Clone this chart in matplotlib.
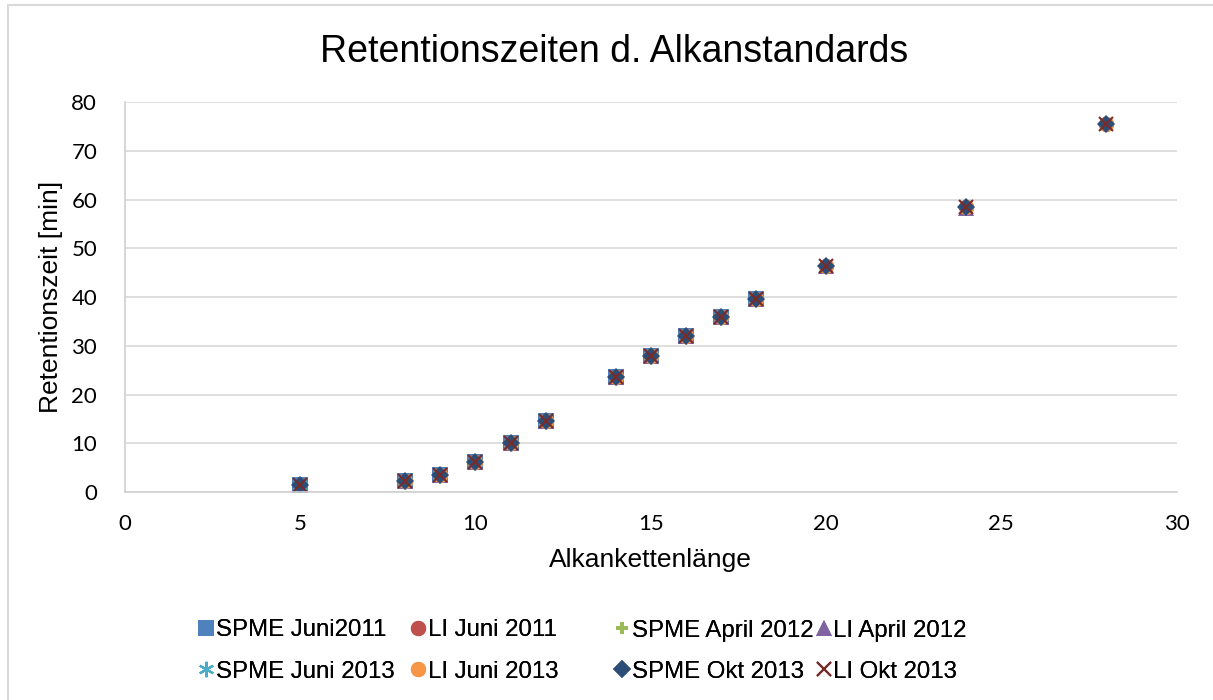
import matplotlib
matplotlib.use('Agg')
import matplotlib.pyplot as plt
from matplotlib.patches import Rectangle

# chain length (x) and retention time in minutes (y) per series
x_spme_2011 = [5, 8, 9, 10, 11, 12, 14, 15, 16, 17, 18]
y_spme_2011 = [1.4, 2.3, 3.5, 6.1, 10.1, 14.6, 23.7, 28.0, 32.0, 36.0, 39.6]
x_li = [8, 9, 10, 11, 12, 14, 15, 16, 17, 18, 20, 24, 28]
y_li = [2.3, 3.5, 6.1, 10.1, 14.6, 23.7, 28.0, 32.0, 36.0, 39.6, 46.4, 58.5, 75.5]
x_li_apr = [8, 9, 10, 11, 12, 14, 15, 16, 17, 18, 20, 24]
y_li_apr = [2.3, 3.5, 6.1, 10.1, 14.6, 23.7, 28.0, 32.0, 36.0, 39.6, 46.3, 58.3]
x_spme_2013 = [5, 8, 9, 10, 11, 12, 14, 15, 16, 17, 18]
y_spme_2013 = [1.4, 2.3, 3.5, 6.1, 10.1, 14.6, 23.7, 28.0, 32.0, 36.0, 39.6]

series = [
    ('SPME Juni2011', x_spme_2011, y_spme_2011, 's', '#4F81BD', 11),
    ('LI Juni 2011', x_li, y_li, 'o', '#C0504D', 11),
    ('SPME April 2012', x_spme_2011, y_spme_2011, 'P', '#9BBB59', 9),
    ('LI April 2012', x_li_apr, y_li_apr, '^', '#8064A2', 11),
    ('SPME Juni 2013', x_spme_2013, y_spme_2013, (6, 2, 0), '#4BACC6', 11),
    ('LI Juni 2013', x_li, y_li, 'o', '#F79646', 11),
    ('SPME Okt 2013', x_spme_2011 + x_li[-3:], y_spme_2011 + y_li[-3:], 'D', '#2C4D75', 9),
    ('LI Okt 2013', x_spme_2011 + x_li[-3:], y_spme_2011 + y_li[-3:], 'x', '#772C2A', 10),
]

plt.rcParams['font.family'] = ['Liberation Sans', 'DejaVu Sans']

fig = plt.figure(figsize=(12.13, 7.0), dpi=100)
ax = fig.add_axes([0.103, 0.297, 0.867, 0.557])

handles = []
for name, xs, ys, mk, col, ms in series:
    if mk in ('x', (6, 2, 0)):
        h, = ax.plot(xs, ys, linestyle='none', marker=mk, color=col, markersize=ms,
                     markeredgewidth=1.5, label=name)
    else:
        h, = ax.plot(xs, ys, linestyle='none', marker=mk, color=col, markersize=ms,
                     markeredgewidth=0, label=name)
    handles.append(h)

ax.set_xlim(0, 30)
ax.set_ylim(0, 80)
ax.set_xticks(range(0, 31, 5))
ax.set_yticks(range(0, 81, 10))
ax.grid(axis='y', color='#D9D9D9', linewidth=1.2)
ax.set_axisbelow(True)
for s in ['top', 'right']:
    ax.spines[s].set_visible(False)
for s in ['left', 'bottom']:
    ax.spines[s].set_color('#D0D0D0')
    ax.spines[s].set_linewidth(1.2)
ax.tick_params(axis='x', length=0, labelsize=16, pad=16)
ax.tick_params(axis='y', length=0, labelsize=16, pad=20)
for lbl in ax.get_xticklabels() + ax.get_yticklabels():
    lbl.set_family(['Lato', 'DejaVu Sans'])

ax.set_xlabel('Alkankettenlänge', fontsize=19, labelpad=10)
ax.set_ylabel('Retentionszeit [min]', fontsize=19, labelpad=6)
fig.text(0.506, 0.925, 'Retentionszeiten d. Alkanstandards', ha='center', va='center', fontsize=27)

# legend: four columns, two rows
col_x = [0.164, 0.339, 0.507, 0.673]
for i, cx in enumerate(col_x):
    hs = [handles[i], handles[i + 4]]
    leg = fig.legend(hs, [h.get_label() for h in hs], loc='upper left',
                     bbox_to_anchor=(cx, 0.115), frameon=False, fontsize=17.3,
                     handlelength=0.6, handletextpad=0.1, labelspacing=0.8,
                     borderpad=0, borderaxespad=0)
    fig.add_artist(leg)

fig.add_artist(Rectangle((0.007, -0.01), 1.2, 1.0025, transform=fig.transFigure,
                         fill=False, edgecolor='#D9D9D9', linewidth=1.5))

fig.savefig('out.png', dpi=100)
